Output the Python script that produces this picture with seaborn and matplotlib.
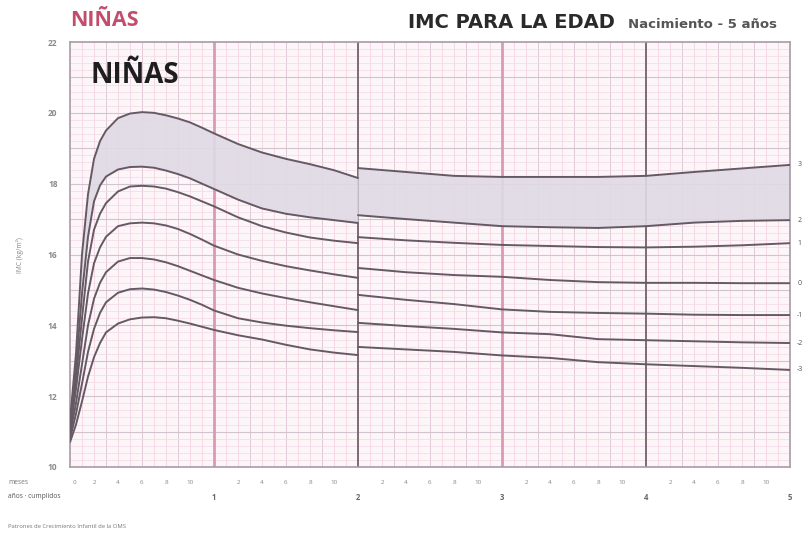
import numpy as np
import pandas as pd
import matplotlib
matplotlib.use("Agg")
import matplotlib.pyplot as plt
import seaborn as sns

# ---- data (months, BMI) ----
months_a = [0, 0.5, 1, 1.5, 2, 2.5, 3, 4, 5, 6, 7, 8, 9, 10, 11, 12, 14, 16, 18, 20, 22, 24]
months_b = [24, 28, 32, 36, 40, 44, 48, 52, 56, 60]

curve_labels = ["3", "2", "1", "0", "-1", "-2", "-3"]

bmi_a = {
    "3":  [11.3, 13.2, 16.0, 17.7, 18.7, 19.2, 19.5, 19.85, 19.98, 20.02, 20.0, 19.93, 19.84, 19.73, 19.58, 19.42, 19.12, 18.88, 18.7, 18.55, 18.38, 18.16],
    "2":  [11.2, 12.8, 14.9, 16.5, 17.5, 17.95, 18.2, 18.4, 18.47, 18.48, 18.45, 18.37, 18.27, 18.15, 18.0, 17.85, 17.55, 17.3, 17.15, 17.05, 16.97, 16.89],
    "1":  [11.1, 12.5, 14.2, 15.8, 16.7, 17.15, 17.45, 17.78, 17.92, 17.94, 17.92, 17.86, 17.76, 17.64, 17.5, 17.36, 17.05, 16.8, 16.62, 16.48, 16.39, 16.32],
    "0":  [11.0, 12.2, 13.6, 14.9, 15.75, 16.2, 16.5, 16.8, 16.88, 16.9, 16.88, 16.82, 16.72, 16.58, 16.42, 16.25, 16.0, 15.82, 15.67, 15.55, 15.44, 15.34],
    "-1": [10.9, 11.8, 12.9, 14.0, 14.75, 15.2, 15.5, 15.8, 15.9, 15.9, 15.86, 15.78, 15.67, 15.54, 15.41, 15.28, 15.06, 14.9, 14.77, 14.65, 14.54, 14.43],
    "-2": [10.8, 11.5, 12.35, 13.25, 13.9, 14.35, 14.65, 14.92, 15.02, 15.04, 15.01, 14.94, 14.84, 14.72, 14.58, 14.42, 14.2, 14.08, 13.99, 13.92, 13.86, 13.81],
    "-3": [10.7, 11.2, 11.85, 12.55, 13.1, 13.5, 13.8, 14.05, 14.17, 14.22, 14.23, 14.2, 14.13, 14.05, 13.96, 13.87, 13.72, 13.6, 13.45, 13.32, 13.23, 13.16],
}
bmi_b = {
    "3":  [18.44, 18.33, 18.22, 18.19, 18.19, 18.19, 18.22, 18.33, 18.43, 18.53],
    "2":  [17.11, 17.0, 16.9, 16.8, 16.77, 16.75, 16.8, 16.9, 16.95, 16.97],
    "1":  [16.49, 16.4, 16.33, 16.27, 16.24, 16.21, 16.2, 16.22, 16.26, 16.32],
    "0":  [15.62, 15.5, 15.42, 15.37, 15.28, 15.22, 15.2, 15.2, 15.19, 15.19],
    "-1": [14.86, 14.72, 14.6, 14.45, 14.38, 14.35, 14.33, 14.3, 14.29, 14.29],
    "-2": [14.07, 13.98, 13.9, 13.8, 13.75, 13.61, 13.58, 13.55, 13.52, 13.5],
    "-3": [13.39, 13.32, 13.25, 13.15, 13.08, 12.96, 12.9, 12.85, 12.8, 12.74],
}

y_ticks = [10, 12, 14, 16, 18, 20, 22]
month_tick_labels = ["2", "4", "6", "8", "10"]
year_tick_labels = ["1", "2", "3", "4", "5"]

# ---- build long table ----
rows = []
for lab in curve_labels:
    for m, v in zip(months_a, bmi_a[lab]):
        rows.append({"curve": lab, "seg": "a", "mes": m, "imc": v})
    for m, v in zip(months_b, bmi_b[lab]):
        rows.append({"curve": lab, "seg": "b", "mes": m, "imc": v})
df = pd.DataFrame(rows)
df["key"] = df["curve"] + df["seg"]

sns.set_theme(style="white")
plt.rcParams["font.family"] = ["Open Sans", "DejaVu Sans"]

fig = plt.figure(figsize=(8.06, 5.33), dpi=100)
ax = fig.add_axes([70 / 806, 1 - 467 / 533, 720 / 806, 425 / 533])
ax.set_facecolor("#fdf6f9")

ax.set_xlim(0, 60)
ax.set_ylim(10, 22)

# grid
for m in range(1, 60):
    ax.axvline(m, color="#f5d4e3", lw=0.6, zorder=0)
for m in range(3, 60, 3):
    ax.axvline(m, color="#e0cad7", lw=0.7, zorder=0)
for yv in np.arange(10.2, 22, 0.2):
    ax.axhline(yv, color="#f3d9e5", lw=0.5, zorder=0)
for yv in range(11, 22):
    ax.axhline(yv, color="#d3c3cf", lw=0.8, zorder=0)
for m in (12, 36):
    ax.axvline(m, color="#dc98b5", lw=2.0, zorder=1)
for m in (24, 48):
    ax.axvline(m, color="#7d6b78", lw=1.4, zorder=1)

# shaded band between top two curves
ax.fill_between(months_a, bmi_a["3"], bmi_a["2"], color="#e0dae4", alpha=0.9, zorder=1, lw=0)
ax.fill_between(months_b, bmi_b["3"], bmi_b["2"], color="#e0dae4", alpha=0.9, zorder=1, lw=0)

sns.lineplot(data=df, x="mes", y="imc", units="key", estimator=None,
             color="#655a64", lw=1.4, ax=ax, legend=False, zorder=3, sort=False)

for spine in ax.spines.values():
    spine.set_color("#a99aa5")
    spine.set_linewidth(1.2)

ax.set_xlabel("")
ax.set_ylabel("")
ax.set_xticks([])
ax.set_yticks(y_ticks)
ax.set_yticklabels([str(t) for t in y_ticks], fontsize=6, color="#8a8a8a",
                   fontweight="bold")
ax.tick_params(axis="y", length=0, pad=9)

# right labels
for lab in curve_labels:
    ax.text(60.6, bmi_b[lab][-1], lab, fontsize=5, color="#555555",
            va="center", ha="left", clip_on=False)

# inner title
ax.text(1.7, 21.05, "NIÑAS", fontsize=20, fontweight="bold", color="#1e1e1e",
        va="center", ha="left")

# bottom month / year labels
for yr in range(5):
    for i, lab in enumerate(month_tick_labels):
        m = yr * 12 + (i + 1) * 2
        ax.text(m, 9.55, lab, fontsize=4.5, color="#888888", ha="center", va="center",
                clip_on=False)
ax.text(0.4, 9.55, "0", fontsize=4.5, color="#888888", ha="center", va="center", clip_on=False)
for i, lab in enumerate(year_tick_labels):
    ax.text((i + 1) * 12, 9.15, lab, fontsize=5.5, color="#666666", ha="center",
            va="center", fontweight="bold", clip_on=False)

fig.text(8 / 806, 1 - 483 / 533, "meses", fontsize=4.8, color="#777777", va="center")
fig.text(8 / 806, 1 - 497 / 533, "años · cumplidos", fontsize=4.8, color="#555555", va="center")
fig.text(8 / 806, 1 - 527 / 533, "Patrones de Crecimiento Infantil de la OMS", fontsize=4.2,
         color="#777777", va="center")

# y-axis label
fig.text(20 / 806, 1 - 255 / 533, "IMC (kg/m²)", fontsize=4.8, color="#888888",
         rotation=90, va="center", ha="center")

# titles
fig.text(70 / 806, 1 - 21 / 533, "NIÑAS", fontsize=15.5, fontweight="bold",
         color="#c24d6c", va="center", ha="left")
fig.text(408 / 806, 1 - 23 / 533, "IMC PARA LA EDAD", fontsize=14, fontweight="bold",
         color="#2a2a2a", va="center", ha="left", family="DejaVu Sans")
fig.text(628 / 806, 1 - 24 / 533, "Nacimiento - 5 años", fontsize=9.5, fontweight="bold",
         color="#555555", va="center", ha="left", family="DejaVu Sans")

fig.savefig("out.png", dpi=100, facecolor="white")
